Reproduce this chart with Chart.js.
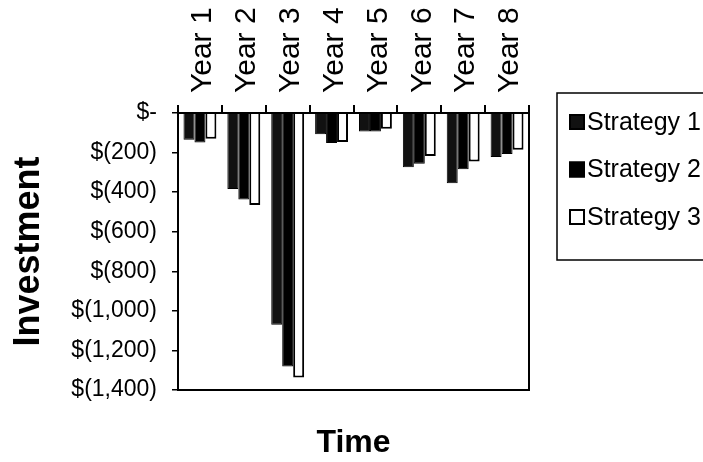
<!DOCTYPE html>
<html>
<head>
<meta charset="utf-8">
<script src="https://cdn.jsdelivr.net/npm/chart.js@4/dist/chart.umd.min.js"></script>
<style>
  html, body { margin: 0; padding: 0; background: #fff; }
</style>
</head>
<body>
<canvas id="chart" width="703" height="462"></canvas>
<script>
const years = ['Year 1', 'Year 2', 'Year 3', 'Year 4', 'Year 5', 'Year 6', 'Year 7', 'Year 8']
const strategy1 = [-135, -384, -1070, -107, -93, -274, -355, -223]
const strategy2 = [-149, -437, -1281, -152, -93, -257, -284, -207]
const strategy3 = [-130, -465, -1337, -146, -80, -217, -245, -186]
const yTickValues = [0, -200, -400, -600, -800, -1000, -1200, -1400]
const yTickLabels = ['$-', '$(200)', '$(400)', '$(600)', '$(800)', '$(1,000)', '$(1,200)', '$(1,400)']

const FONT = '"Liberation Sans", Arial, sans-serif'

// legend box + plot frame, drawn after the bars
const frameAndLegend = {
  id: 'frameAndLegend',
  afterDraw(chart) {
    const { ctx, chartArea } = chart
    ctx.save()
    ctx.strokeStyle = '#000'
    ctx.lineWidth = 2
    ctx.strokeRect(chartArea.left, chartArea.top, chartArea.width, chartArea.height)

    const left = chartArea.right + 28
    const top = chartArea.top - 20
    ctx.lineWidth = 1.5
    ctx.strokeRect(left, top, 200, 167)
    ctx.font = '25px ' + FONT
    ctx.textBaseline = 'middle'
    chart.data.datasets.forEach((ds, i) => {
      const y = top + 29 + i * 47.5
      ctx.fillStyle = ds.backgroundColor
      ctx.fillRect(left + 12, y - 8, 16, 16)
      ctx.lineWidth = 2
      ctx.strokeRect(left + 13, y - 7, 14, 14)
      ctx.fillStyle = '#000'
      ctx.fillText(ds.label, left + 30, y + 1)
    })
    ctx.restore()
  }
}

new Chart(document.getElementById('chart'), {
  type: 'bar',
  data: {
    labels: years,
    datasets: [
      { label: 'Strategy 1', data: strategy1, backgroundColor: '#111', borderColor: '#000', borderWidth: 1 },
      { label: 'Strategy 2', data: strategy2, backgroundColor: '#000', borderColor: '#000', borderWidth: 1 },
      { label: 'Strategy 3', data: strategy3, backgroundColor: '#fff', borderColor: '#000', borderWidth: 2 }
    ]
  },
  options: {
    responsive: false,
    animation: false,
    categoryPercentage: 0.75,
    barPercentage: 1.0,
    layout: { padding: { left: 3, top: 8, right: 174, bottom: 0 } },
    plugins: {
      legend: { display: false },
      tooltip: { enabled: false }
    },
    scales: {
      x: {
        position: 'top',
        afterFit: s => { s.height = 105 },
        grid: { offset: true, drawOnChartArea: false, color: '#000', lineWidth: 2, tickLength: 8 },
        border: { display: true, color: '#000', width: 2 },
        ticks: { minRotation: 90, maxRotation: 90, autoSkip: false, padding: 12, labelOffset: 39, color: '#000', font: { family: FONT, size: 30 } }
      },
      x2: {
        position: 'bottom',
        afterFit: s => { s.height = 72 },
        grid: { display: false, drawTicks: false },
        border: { display: true, color: '#000', width: 2 },
        ticks: { display: false },
        title: { display: true, text: 'Time', color: '#000', font: { family: FONT, size: 32, weight: 'bold' }, padding: { top: 33, bottom: 0 } }
      },
      y: {
        min: -1400,
        max: 0,
        afterBuildTicks: scale => { scale.ticks = yTickValues.map(v => ({ value: v })) },
        afterFit: s => { s.width = 175 },
        grid: { drawOnChartArea: false, color: '#000', lineWidth: 1.5, tickLength: 6 },
        border: { display: true, color: '#000', width: 2 },
        ticks: {
          padding: 15,
          color: '#000',
          font: { family: FONT, size: 23 },
          callback: v => yTickLabels[yTickValues.indexOf(v)]
        },
        title: { display: true, text: 'Investment', color: '#000', font: { family: FONT, size: 36, weight: 'bold' }, padding: { top: 4, bottom: 24 } }
      }
    }
  },
  plugins: [frameAndLegend]
})
</script>
</body>
</html>
